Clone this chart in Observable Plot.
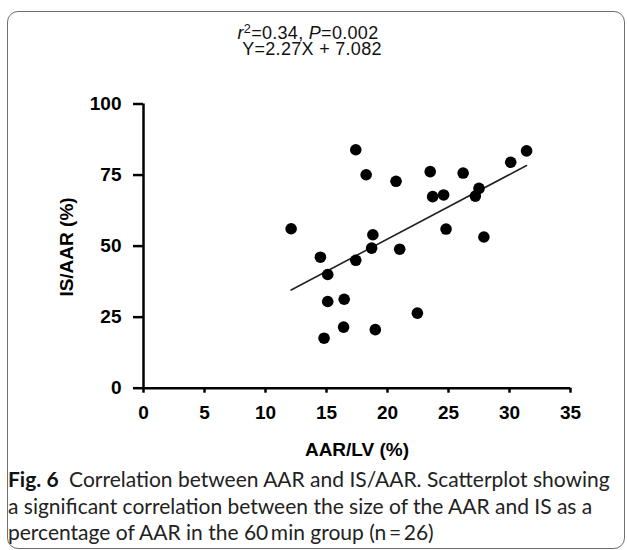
<!DOCTYPE html>
<html>
<head>
<meta charset="utf-8">
<script src="https://cdn.jsdelivr.net/npm/d3@7"></script>
<script src="https://cdn.jsdelivr.net/npm/@observablehq/plot@0.6"></script>
<style>
  html, body { margin: 0; padding: 0; background: #fff; }
  #wrap { position: relative; width: 627px; height: 550px; overflow: hidden; background: #fff; }
  #border { position: absolute; left: 7px; top: 11px; width: 618px; height: 538px; box-sizing: border-box;
            border: 1.5px solid #707070; border-radius: 11px; }
  .title { position: absolute; left: 208px; width: 200px; text-align: center;
           font-family: "Liberation Sans", Arial, sans-serif; font-size: 18px; line-height: 16px;
           letter-spacing: 0.3px; color: #111; white-space: nowrap; }
  #t1 { top: 25px; }
  #t2 { top: 41px; left: 212px; }
  .title .sup { font-size: 0.7em; position: relative; top: -0.5em; line-height: 0; }
  #plot { position: absolute; left: 0; top: 0; }
  .axlabel { position: absolute; font-family: "Liberation Sans", Arial, sans-serif; font-weight: bold;
             font-size: 19px; color: #000; white-space: nowrap; }
  #ylab { left: 67px; top: 247px; transform: translate(-50%, -50%) rotate(-90deg); }
  #xlab { left: 357px; top: 450px; transform: translate(-50%, -50%); }
  #caption { position: absolute; left: 8px; top: 466px; font-family: Lato, "Open Sans", sans-serif;
             font-size: 21px; line-height: 26.5px; color: #222; white-space: nowrap; }
  #caption b { font-weight: bold; color: #111; }
</style>
</head>
<body>
<div id="wrap">
  <div id="border"></div>
  <div id="plot"></div>
  <div class="title" id="t1"><i>r</i><span class="sup">2</span>=0.34, <i>P</i>=0.002</div>
  <div class="title" id="t2">Y=2.27X + 7.082</div>
  <div class="axlabel" id="ylab">IS/AAR (%)</div>
  <div class="axlabel" id="xlab">AAR/LV (%)</div>
  <div id="caption"><b>Fig. 6</b>&ensp;Correlation between AAR and IS/AAR. Scatterplot showing<br>a significant correlation between the size of the AAR and IS as a<br>percentage of AAR in the 60&thinsp;min group (n&thinsp;=&thinsp;26)</div>
</div>
<script>
// Data (AAR/LV %, IS/AAR %)
const aarLV = [17.4, 18.25, 12.1, 14.5, 15.1, 17.4, 18.8, 18.7, 20.7, 23.5, 26.2, 30.1, 31.4,
               23.7, 24.6, 27.5, 27.2, 24.8, 27.9, 21.0, 15.1, 16.45, 16.4, 14.8, 19.0, 22.45];
const isAAR = [83.9, 75.1, 56.1, 46.1, 40.0, 45.0, 54.0, 49.3, 72.8, 76.2, 75.7, 79.5, 83.5,
               67.4, 68.0, 70.3, 67.6, 56.0, 53.2, 48.9, 30.5, 31.3, 21.5, 17.6, 20.6, 26.4];
const slope = 2.27;
const intercept = 7.082;
const xTicks = [0, 5, 10, 15, 20, 25, 30, 35];
const yTicks = [0, 25, 50, 75, 100];

const points = aarLV.map((x, i) => ({x, y: isAAR[i]}));
const [xmin, xmax] = d3.extent(aarLV);
const fit = [xmin, xmax].map(x => ({x, y: slope * x + intercept}));

const chart = Plot.plot({
  width: 627,
  height: 470,
  marginLeft: 143,
  marginRight: 57,
  marginTop: 103.5,
  marginBottom: 82.3,
  style: {fontFamily: "'Liberation Sans', Arial, sans-serif", background: "transparent", color: "#000"},
  x: {domain: [0, 35]},
  y: {domain: [0, 100]},
  marks: [
    Plot.axisX({ticks: xTicks, tickSize: 5, tickPadding: 12, strokeWidth: 2.5, stroke: "#000",
                fontSize: 19, fontWeight: "bold", fill: "#000", label: null}),
    Plot.axisY({ticks: yTicks, tickSize: 10, tickPadding: 12, strokeWidth: 2.5, stroke: "#000",
                fontSize: 19, fontWeight: "bold", fill: "#000", label: null}),
    Plot.ruleY([0], {x1: 0, x2: 35, stroke: "#000", strokeWidth: 2.5}),
    Plot.ruleX([0], {y1: 0, y2: 100, stroke: "#000", strokeWidth: 2.5}),
    Plot.line(fit, {x: "x", y: "y", stroke: "#222", strokeWidth: 1.6}),
    Plot.dot(points, {x: "x", y: "y", r: 5.8, fill: "#000", stroke: "none"})
  ]
});
document.getElementById("plot").appendChild(chart);
</script>
</body>
</html>
